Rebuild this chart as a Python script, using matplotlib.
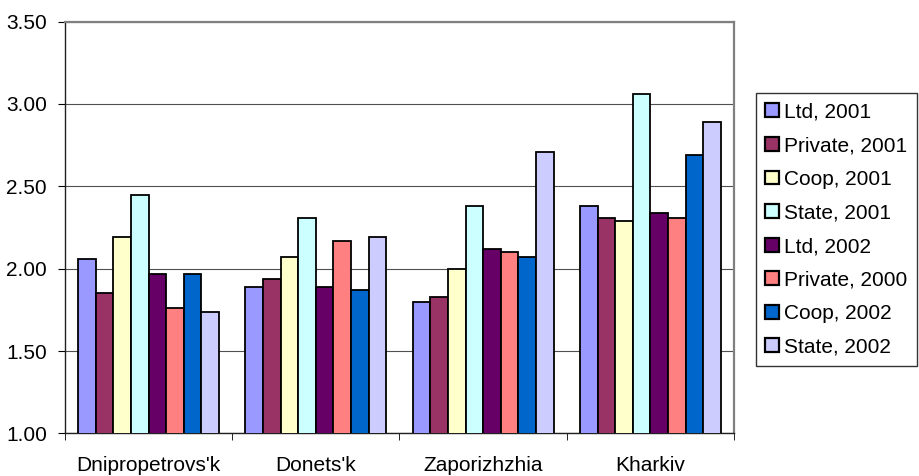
import numpy as np
import matplotlib.pyplot as plt

plt.rcParams['font.family'] = ['Liberation Sans', 'DejaVu Sans']
plt.rcParams['font.size'] = 15

regions = ["Dnipropetrovs'k", "Donets'k", "Zaporizhzhia", "Kharkiv"]
series = ["Ltd, 2001", "Private, 2001", "Coop, 2001", "State, 2001",
          "Ltd, 2002", "Private, 2000", "Coop, 2002", "State, 2002"]
ltd_2001 = [2.06, 1.89, 1.80, 2.38]
private_2001 = [1.85, 1.94, 1.83, 2.31]
coop_2001 = [2.19, 2.07, 2.00, 2.29]
state_2001 = [2.45, 2.31, 2.38, 3.06]
ltd_2002 = [1.97, 1.89, 2.12, 2.34]
private_2000 = [1.76, 2.17, 2.10, 2.31]
coop_2002 = [1.97, 1.87, 2.07, 2.69]
state_2002 = [1.74, 2.19, 2.71, 2.89]
values = [ltd_2001, private_2001, coop_2001, state_2001,
          ltd_2002, private_2000, coop_2002, state_2002]
colors = ['#9999FF', '#993366', '#FFFFCC', '#CCFFFF',
          '#660066', '#FF8080', '#0066CC', '#CCCCFF']

fig = plt.figure(figsize=(9.19, 4.76), dpi=100)
ax = fig.add_axes([0.0707, 0.0893, 0.728, 0.8655])

x = np.arange(len(regions))
n = len(series)
w = 1 / (n + 1.5)
for i in range(n):
    ax.bar(x + (i - (n - 1) / 2) * w, values[i], width=w, bottom=0,
           color=colors[i], edgecolor='black', linewidth=1.3,
           label=series[i], zorder=3)

ax.set_ylim(1.0, 3.5)
ax.set_xlim(-0.5, len(regions) - 0.5)
ax.set_yticks(np.arange(1.0, 3.51, 0.5))
ax.set_yticklabels(['%.2f' % v for v in np.arange(1.0, 3.51, 0.5)])
ax.yaxis.grid(True, color='#505050', linewidth=0.8)
ax.set_axisbelow(True)

ax.set_xticks(x)
ax.set_xticklabels(regions)
ax.tick_params(axis='x', which='major', length=0, pad=16)
ax.set_xticks(np.arange(-0.5, len(regions), 1), minor=True)
ax.tick_params(axis='x', which='minor', length=5, direction='out', color='black')
ax.tick_params(axis='y', length=5, direction='out', color='black', pad=8)

for s in ['top', 'right']:
    ax.spines[s].set_color('#808080')
    ax.spines[s].set_linewidth(1.6)
for s in ['left', 'bottom']:
    ax.spines[s].set_color('#202020')
    ax.spines[s].set_linewidth(1.0)

leg = fig.legend(loc='upper left', bbox_to_anchor=(0.8226, 0.804),
                 frameon=True, fancybox=False, shadow=False,
                 handlelength=0.65, handleheight=0.65, handletextpad=0.25,
                 labelspacing=0.7, borderpad=0.45, borderaxespad=0)
leg.get_frame().set_edgecolor('black')
leg.get_frame().set_linewidth(1.0)
for h in leg.legend_handles:
    h.set_linewidth(1.6)

fig.savefig('out.png', dpi=100)
